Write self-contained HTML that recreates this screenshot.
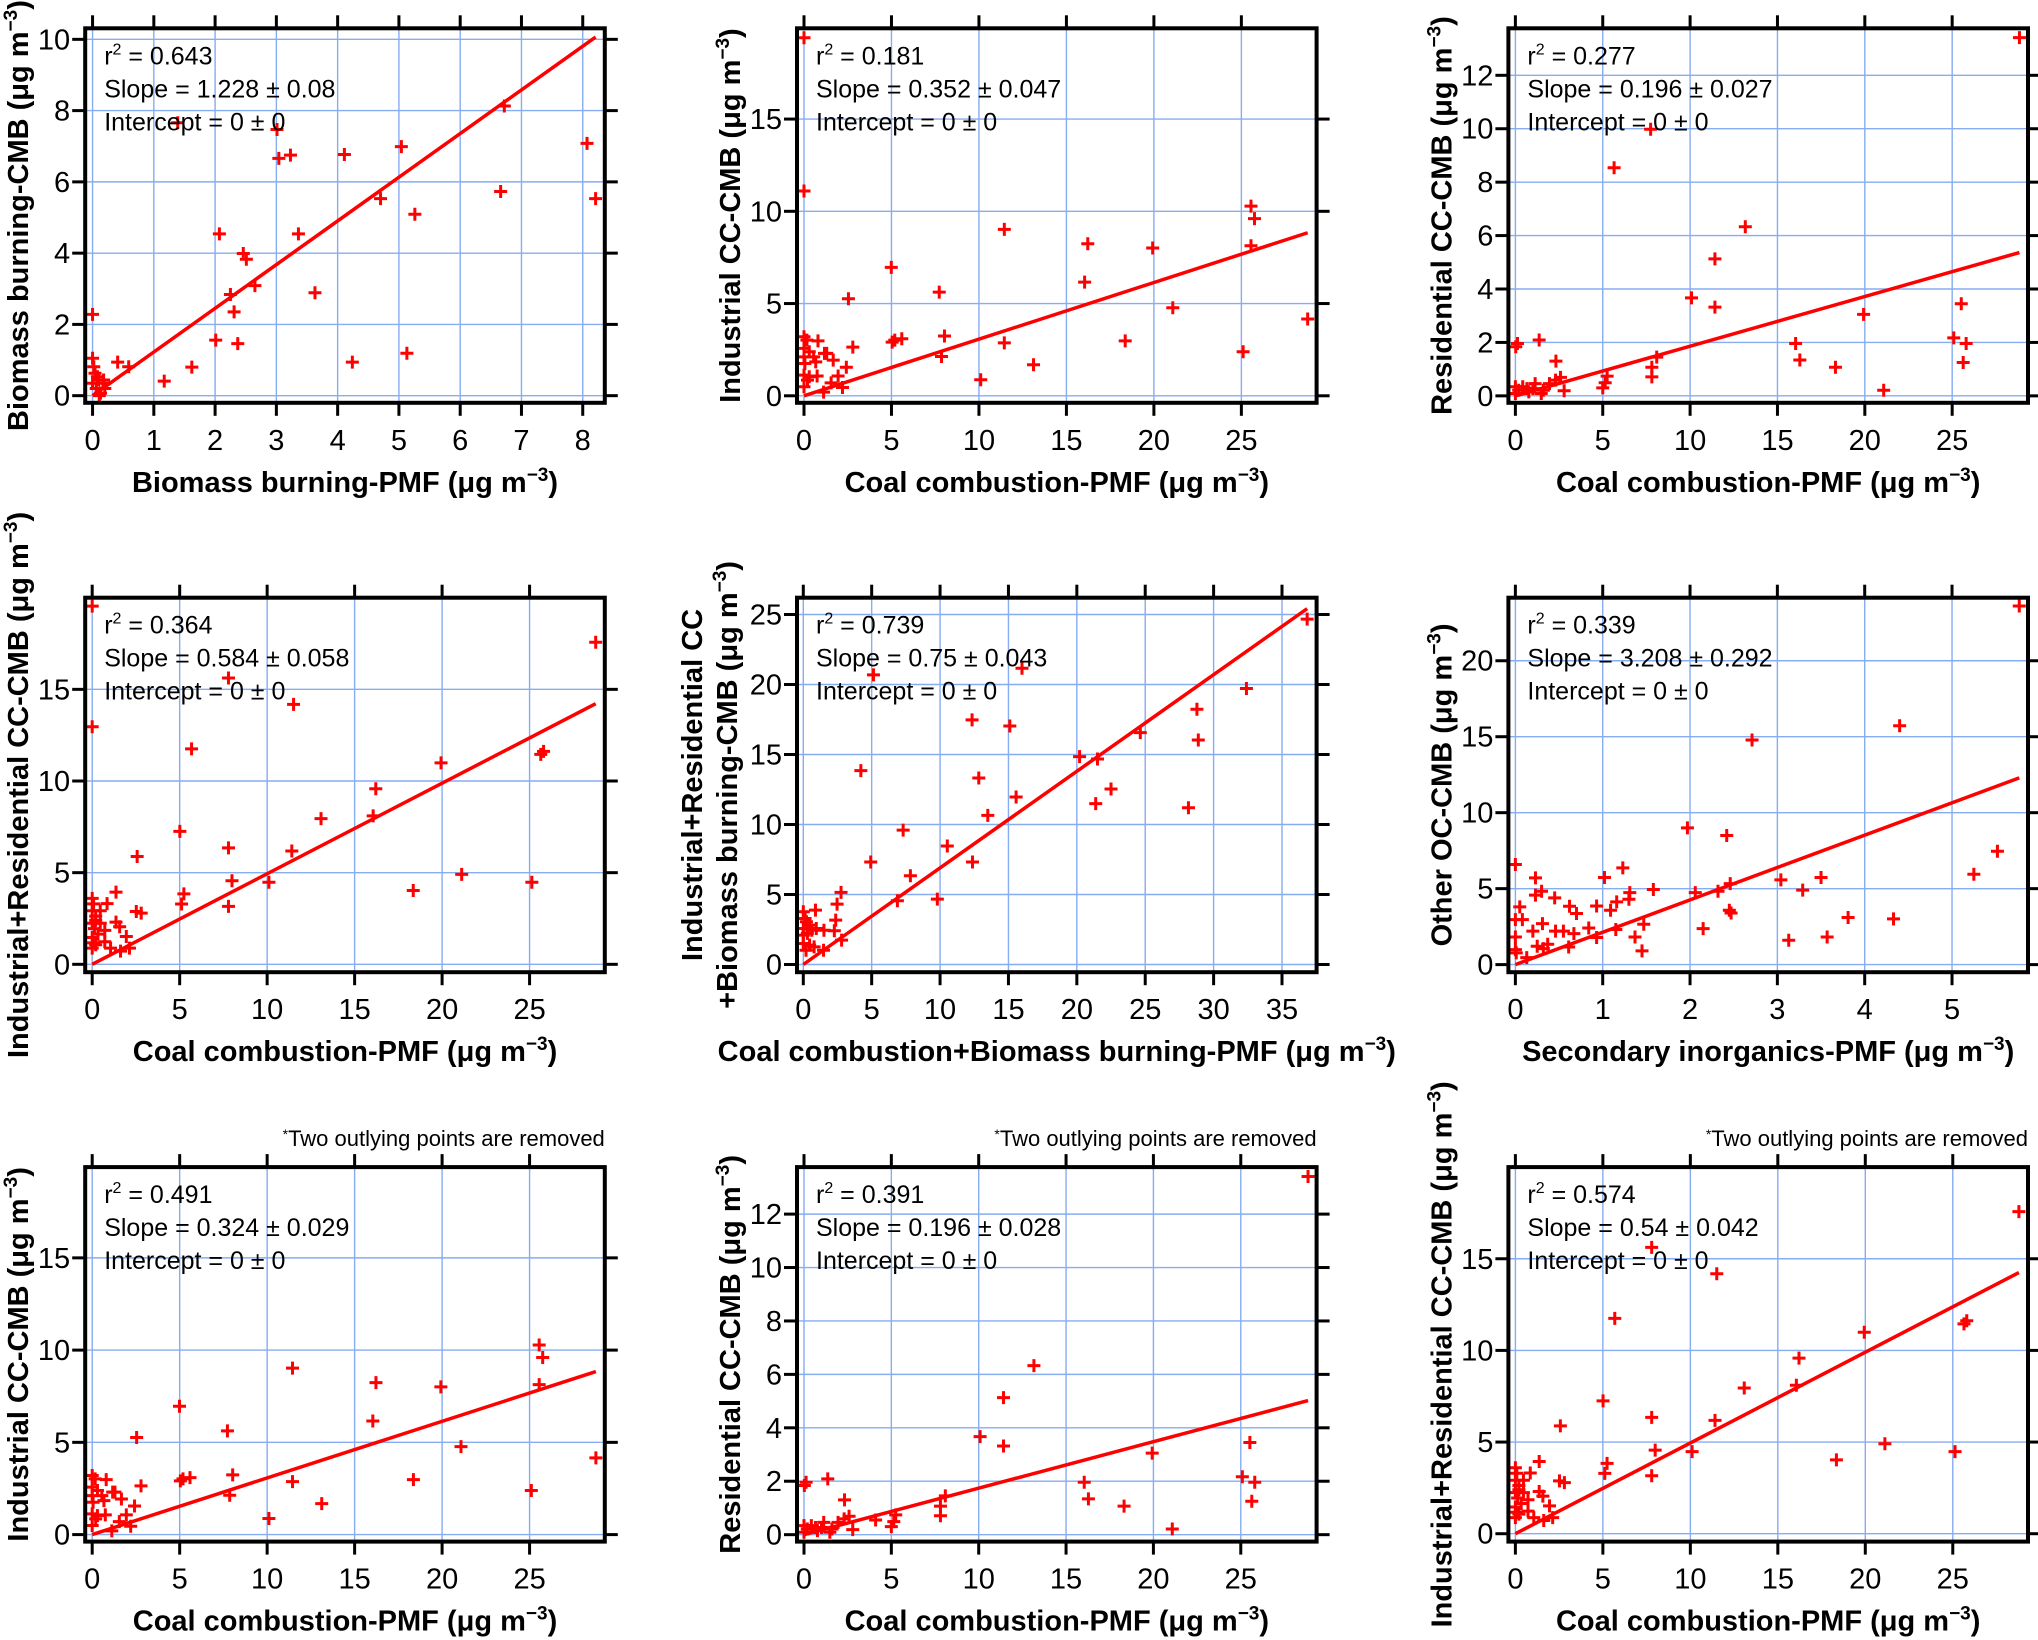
<!DOCTYPE html>
<html><head><meta charset="utf-8">
<style>
html,body{margin:0;padding:0;background:#fff;}
svg{display:block;font-family:"Liberation Sans",Arial,sans-serif;}
</style></head>
<body>
<svg id="fig" xmlns="http://www.w3.org/2000/svg" width="2038" height="1640" viewBox="0 0 2038 1640"></svg>
<script>
// ---- data ----
const p1X=[0,1.39,3.01,3.04,3.23,4.11,5.04,6.72,8.07,6.66,8.21,4.70,5.26,2.07,3.36,2.46,2.51,2.65,2.25,2.31,3.63,2.01,2.37,5.13,4.24,1.62,1.17,0.41,0.59,0,0.02,0.04,0.10,0.17,0.06,0.13,0.20,0,0.08,0.11,0.18];
const p1Y=[2.28,7.66,7.47,6.66,6.75,6.77,6.99,8.13,7.08,5.73,5.53,5.53,5.09,4.54,4.54,3.99,3.83,3.09,2.84,2.35,2.89,1.56,1.46,1.19,0.94,0.80,0.41,0.94,0.81,1.05,0.81,0.63,0.44,0.35,0.20,0.07,0.20,0.35,0.53,0.00,0.44];
const p2X=[0,0,11.45,25.55,25.75,25.55,16.22,19.93,4.99,16.04,7.73,2.54,21.08,28.79,8.03,5.59,5.19,5.04,2.79,18.36,11.45,7.86,25.10,13.12,10.10,2.42,1.95,2.2,1.12,1.55,0,0.17,0.8,0,0.3,0,0.55,1.3,1.67,0.05,0.67,0,0.3,0.75,0,0.2,1.17];
const p2Y=[19.41,11.10,9.02,10.28,9.60,8.13,8.24,8.01,6.96,6.16,5.62,5.26,4.77,4.16,3.24,3.09,3.02,2.91,2.64,2.98,2.87,2.13,2.39,1.68,0.87,1.55,1.07,0.45,0.2,0.7,3.2,3.02,2.98,2.57,2.39,2.11,2.11,2.3,1.93,1.75,1.84,1.12,1.03,1.07,0.49,0.85,2.3];
const p3X=[28.85,7.74,5.65,13.16,11.42,10.08,11.42,25.52,19.93,25.09,25.8,25.63,16.04,16.28,18.32,21.08,8.09,7.81,7.81,5.25,5.14,5.0,1.36,0.12,0.02,2.32,2.58,2.79,2.3,1.95,0,0.19,0.42,0.77,1.13,1.48,0,0.66,1.0,1.6];
const p3Y=[13.41,9.98,8.54,6.33,5.13,3.67,3.32,3.45,3.05,2.17,1.96,1.25,1.96,1.34,1.07,0.21,1.45,1.07,0.71,0.74,0.49,0.3,2.09,1.96,1.84,1.30,0.69,0.19,0.59,0.46,0.34,0.21,0.34,0.15,0.46,0.09,0.09,0.27,0.27,0.21];
const p4X=[0,28.78,7.79,11.51,0,5.68,25.64,25.8,19.94,16.21,16.06,13.08,11.41,5.01,7.79,2.57,7.99,10.1,21.12,25.13,18.35,5.24,5.11,7.79,2.52,2.8,1.36,0.85,2.13,1.95,1.57,1.36,1.62,1.05,0.72,0.72,0.46,0,0.08,0,0.2,0,0.13,0,0.08,0,0.33,0.2,0.46,0.2];
const p4Y=[19.54,17.57,15.62,14.18,12.96,11.75,11.45,11.62,10.99,9.58,8.1,7.95,6.18,7.25,6.35,5.88,4.56,4.48,4.91,4.48,4.03,3.84,3.29,3.16,2.88,2.79,3.94,3.31,0.88,1.52,2.05,2.30,0.72,0.88,1.23,1.85,2.24,3.6,3.3,2.92,2.63,2.24,1.95,1.46,1.17,0.88,1.65,2.4,2.92,1.07];
const p5X=[36.84,5.13,15.99,32.4,28.78,28.88,12.34,15.1,24.64,20.2,21.51,4.21,12.83,22.5,21.38,28.16,15.56,13.49,7.3,10.53,4.93,12.37,7.83,6.88,9.8,2.76,2.47,2.37,2.8,2.27,0.89,1.51,1.48,0.79,0,0.13,0.46,0,0.3,0.62,0,0.2,0.46,0,0.95,0.23];
const p5Y=[24.67,20.69,21.16,19.71,18.23,16.04,17.47,17.04,16.56,14.85,14.68,13.85,13.32,12.54,11.49,11.2,11.96,10.65,9.6,8.46,7.32,7.32,6.34,4.55,4.67,5.15,4.31,3.17,1.74,2.41,3.88,2.45,1.02,1.26,3.77,3.29,2.81,2.57,2.22,2.45,1.5,1.02,1.38,2.1,2.57,3.05];
const p6X=[5.77,4.4,2.71,1.97,2.42,5.52,5.25,0,1.23,0.23,1.02,3.04,3.5,3.29,2.46,2.32,2.06,1.58,1.31,1.3,1.16,0.3,0.23,0.45,0.05,0.62,0.93,0.7,1.09,2.45,2.47,3.81,4.33,1.47,0.31,0.08,0,0.2,0.46,0.55,0.67,0.84,1.15,2.15,1.37,0.93,0,3.13,3.57,0.25,0.37,0.32,0.61,0,1.45,0.13,0.01];
const p6Y=[23.6,15.72,14.78,9.0,8.5,7.46,5.95,6.59,6.37,5.71,5.73,5.58,5.73,4.9,5.33,4.83,4.74,4.94,4.74,4.3,4.13,4.83,4.57,4.39,3.8,3.84,3.86,3.36,3.58,3.58,3.4,3.1,3.01,2.66,2.7,2.96,2.96,2.2,2.2,2.2,2.04,2.41,2.31,2.37,1.82,1.78,1.82,1.6,1.82,1.21,1.34,1.05,1.16,0.99,0.9,0.46,0.77];
const p7X=[11.45,25.55,25.75,25.55,16.22,19.93,4.99,16.04,7.73,2.54,21.08,28.79,8.03,5.59,5.19,5.04,2.79,18.36,11.45,7.86,25.10,13.12,10.10,2.42,1.95,2.2,1.12,1.55,0,0.17,0.8,0,0.3,0,0.55,1.3,1.67,0.05,0.67,0,0.3,0.75,0,0.2,1.17];
const p7Y=[9.02,10.28,9.60,8.13,8.24,8.01,6.96,6.16,5.62,5.26,4.77,4.16,3.24,3.09,3.02,2.91,2.64,2.98,2.87,2.13,2.39,1.68,0.87,1.55,1.07,0.45,0.2,0.7,3.2,3.02,2.98,2.57,2.39,2.11,2.11,2.3,1.93,1.75,1.84,1.12,1.03,1.07,0.49,0.85,2.3];
const p8X=[28.85,13.16,11.42,10.08,11.42,25.52,19.93,25.09,25.8,25.63,16.04,16.28,18.32,21.08,8.09,7.81,7.81,5.25,5.14,5.0,4.1,1.36,0.12,0.02,2.32,2.58,2.79,2.3,1.95,0,0.19,0.42,0.77,1.13,1.48,0,0.66,1.0,1.6];
const p8Y=[13.41,6.33,5.13,3.67,3.32,3.45,3.05,2.17,1.96,1.25,1.96,1.34,1.07,0.21,1.45,1.07,0.71,0.74,0.49,0.3,0.55,2.09,1.96,1.84,1.30,0.69,0.19,0.59,0.46,0.34,0.21,0.34,0.15,0.46,0.09,0.09,0.27,0.27,0.21];
const p9X=[28.78,7.79,11.51,5.68,25.64,25.8,19.94,16.21,16.06,13.08,11.41,5.01,7.79,2.57,7.99,10.1,21.12,25.13,18.35,5.24,5.11,7.79,2.52,2.8,1.36,0.85,2.13,1.95,1.57,1.36,1.62,1.05,0.72,0.72,0.46,0,0.08,0,0.2,0,0.13,0,0.08,0,0.33,0.2,0.46,0.2];
const p9Y=[17.57,15.62,14.18,11.75,11.45,11.62,10.99,9.58,8.1,7.95,6.18,7.25,6.35,5.88,4.56,4.48,4.91,4.48,4.03,3.84,3.29,3.16,2.88,2.79,3.94,3.31,0.88,1.52,2.05,2.30,0.72,0.88,1.23,1.85,2.24,3.6,3.3,2.92,2.63,2.24,1.95,1.46,1.17,0.88,1.65,2.4,2.92,1.07];
// slopes of the drawn fit lines as they appear in the figure
const lineSlopes=[1.226,0.307,0.186,0.494,0.69,2.13,0.307,0.174,0.495];
const statR2=["0.643","0.181","0.277","0.364","0.739","0.339","0.491","0.391","0.574"];
const statSlope=["1.228","0.352","0.196","0.584","0.75","3.208","0.324","0.196","0.54"];
const statSlopeErr=["0.08","0.047","0.027","0.058","0.043","0.292","0.029","0.028","0.042"];
const ticks0to8=[0,1,2,3,4,5,6,7,8];
const ticks0to10by2=[0,2,4,6,8,10];
const ticks0to25by5=[0,5,10,15,20,25];
const ticks0to15by5=[0,5,10,15];
const ticks0to12by2=[0,2,4,6,8,10,12];
const ticks0to35by5=[0,5,10,15,20,25,30,35];
const ticks0to5=[0,1,2,3,4,5];
const ticks0to20by5=[0,5,10,15,20];

// ---- layout ----
const NS="http://www.w3.org/2000/svg";
const svg=document.getElementById('fig');
const colL=[85.2,797,1508.4], rowT=[28.3,597.7,1167.1], FW=519.6, FH=374.5;
const panels=[
 {xs:p1X,ys:p1Y,xd:[-0.12,8.36],yd:[-0.2,10.31],xt:ticks0to8,yt:ticks0to10by2,xl:"Biomass burning-PMF",yl:["Biomass burning-CMB"],note:false},
 {xs:p2X,ys:p2Y,xd:[-0.4,29.3],yd:[-0.38,19.92],xt:ticks0to25by5,yt:ticks0to15by5,xl:"Coal combustion-PMF",yl:["Industrial CC-CMB"],note:false},
 {xs:p3X,ys:p3Y,xd:[-0.4,29.34],yd:[-0.26,13.76],xt:ticks0to25by5,yt:ticks0to12by2,xl:"Coal combustion-PMF",yl:["Residential CC-CMB"],note:false},
 {xs:p4X,ys:p4Y,xd:[-0.4,29.3],yd:[-0.43,20.0],xt:ticks0to25by5,yt:ticks0to15by5,xl:"Coal combustion-PMF",yl:["Industrial+Residential CC-CMB"],note:false},
 {xs:p5X,ys:p5Y,xd:[-0.46,37.53],yd:[-0.55,26.2],xt:ticks0to35by5,yt:ticks0to25by5,xl:"Coal combustion+Biomass burning-PMF",yl:["Industrial+Residential CC","+Biomass burning-CMB"],note:false},
 {xs:p6X,ys:p6Y,xd:[-0.08,5.87],yd:[-0.5,24.15],xt:ticks0to5,yt:ticks0to20by5,xl:"Secondary inorganics-PMF",yl:["Other OC-CMB"],note:false},
 {xs:p7X,ys:p7Y,xd:[-0.4,29.3],yd:[-0.38,19.92],xt:ticks0to25by5,yt:ticks0to15by5,xl:"Coal combustion-PMF",yl:["Industrial CC-CMB"],note:true},
 {xs:p8X,ys:p8Y,xd:[-0.4,29.34],yd:[-0.26,13.76],xt:ticks0to25by5,yt:ticks0to12by2,xl:"Coal combustion-PMF",yl:["Residential CC-CMB"],note:true},
 {xs:p9X,ys:p9Y,xd:[-0.4,29.3],yd:[-0.43,20.0],xt:ticks0to25by5,yt:ticks0to15by5,xl:"Coal combustion-PMF",yl:["Industrial+Residential CC-CMB"],note:true}
];
function el(tag,attrs,parent){const e=document.createElementNS(NS,tag);for(const k in attrs)e.setAttribute(k,attrs[k]);parent.appendChild(e);return e;}
function unitText(t,label){
  t.appendChild(document.createTextNode(label+" (\u03bcg m"));
  const s=document.createElementNS(NS,'tspan');s.setAttribute('dy','-11');s.setAttribute('font-size','19');s.textContent="\u22123";t.appendChild(s);
  const c=document.createElementNS(NS,'tspan');c.setAttribute('dy','11');c.textContent=")";t.appendChild(c);
}
panels.forEach((p,i)=>{
  const L=colL[i%3], T=rowT[Math.floor(i/3)], R=L+FW, B=T+FH;
  const sx=v=>L+(v-p.xd[0])/(p.xd[1]-p.xd[0])*FW;
  const sy=v=>B-(v-p.yd[0])/(p.yd[1]-p.yd[0])*FH;
  const g=el('g',{},svg);
  
  
  const grid=el('g',{stroke:'#86acf2','stroke-width':'1.4'},g);
  
  
  p.xt.forEach(v=>{el('line',{x1:sx(v),x2:sx(v),y1:T,y2:B},grid);});
  p.yt.forEach(v=>{el('line',{x1:L,x2:R,y1:sy(v),y2:sy(v)},grid);});
  const xe=Math.max(...p.xs);
  const fl=el('line',{x1:sx(0),y1:sy(0),x2:sx(xe),y2:sy(lineSlopes[i]*xe),stroke:'#ff0000','stroke-width':'3.5'},g);
  
  
  const pts=el('g',{stroke:'#ff0000','stroke-width':'3'},g);
  
  
  p.xs.forEach((xv,j)=>{
    const cx=sx(xv), cy=sy(p.ys[j]);
    const m=el('path',{d:`M${cx-6.5},${cy}H${cx+6.5}M${cx},${cy-6.5}V${cy+6.5}`},pts);
    
    
  });
  const tk=el('g',{stroke:'#000','stroke-width':'3'},g);
  
  
  p.xt.forEach(v=>{el('line',{x1:sx(v),x2:sx(v),y1:B,y2:B+13},tk);el('line',{x1:sx(v),x2:sx(v),y1:T,y2:T-13},tk);});
  p.yt.forEach(v=>{el('line',{x1:L-13,x2:L,y1:sy(v),y2:sy(v)},tk);el('line',{x1:R,x2:R+13,y1:sy(v),y2:sy(v)},tk);});
  const fr=el('rect',{x:L,y:T,width:FW,height:FH,fill:'none',stroke:'#000','stroke-width':'4'},g);
  
  
  p.xt.forEach(v=>{
    const t=el('text',{x:sx(v),y:B+47,'text-anchor':'middle','font-size':'29'},g);
    
    
    t.textContent=v;
  });
  p.yt.forEach(v=>{
    const t=el('text',{x:L-15,y:sy(v)+10,'text-anchor':'end','font-size':'29'},g);
    
    
    t.textContent=v;
  });
  const xt=el('text',{x:L+FW/2,y:B+89,'text-anchor':'middle','font-size':'29','font-weight':'bold'},g);
  
  
  unitText(xt,p.xl);
  const cy=T+FH/2;
  if(p.yl.length===1){
    const yt=el('text',{transform:`translate(${L-57},${cy}) rotate(-90)`,'text-anchor':'middle','font-size':'29','font-weight':'bold'},g);
    
    
    unitText(yt,p.yl[0]);
  } else {
    const y1=el('text',{transform:`translate(${L-95},${cy}) rotate(-90)`,'text-anchor':'middle','font-size':'29','font-weight':'bold'},g);
    
    
    y1.textContent=p.yl[0];
    const y2=el('text',{transform:`translate(${L-60},${cy}) rotate(-90)`,'text-anchor':'middle','font-size':'29','font-weight':'bold'},g);
    
    
    unitText(y2,p.yl[1]);
  }
  const st=el('g',{'font-size':'25',fill:'#000'},g);
  
  
  const r=el('text',{x:L+19,y:T+36},st);
  
  
  r.appendChild(document.createTextNode("r"));
  const sup=document.createElementNS(NS,'tspan');sup.setAttribute('dy','-10');sup.setAttribute('font-size','16');sup.textContent="2";r.appendChild(sup);
  const rest=document.createElementNS(NS,'tspan');rest.setAttribute('dy','10');rest.textContent=" = "+statR2[i];r.appendChild(rest);
  const s=el('text',{x:L+19,y:T+69},st);
  
  
  s.textContent="Slope = "+statSlope[i]+" \u00b1 "+statSlopeErr[i];
  const ic=el('text',{x:L+19,y:T+102},st);
  
  
  ic.textContent="Intercept = 0 \u00b1 0";
  if(p.note){
    const n=el('text',{x:R,y:T-21,'text-anchor':'end','font-size':'22'},g);
    
    
    const a=document.createElementNS(NS,'tspan');a.setAttribute('dy','-7');a.setAttribute('font-size','14');a.textContent="*";n.appendChild(a);
    const b=document.createElementNS(NS,'tspan');b.setAttribute('dy','7');b.textContent="Two outlying points are removed";n.appendChild(b);
  }
});
</script>
</body></html>
